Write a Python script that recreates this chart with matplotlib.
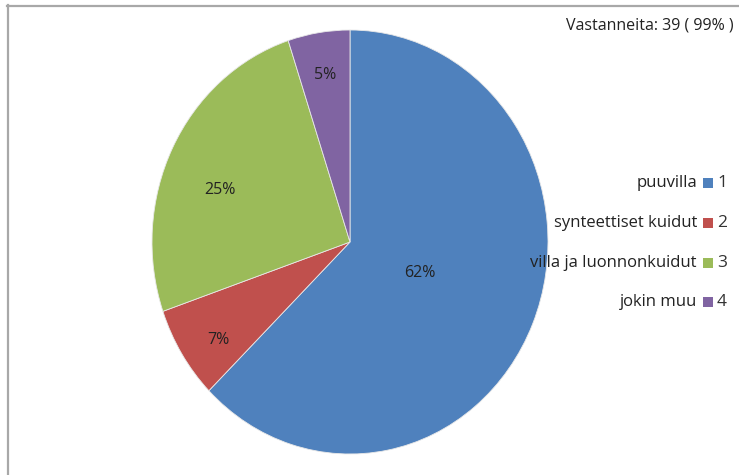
import matplotlib
matplotlib.use("Agg")
import matplotlib.pyplot as plt
import numpy as np
from matplotlib.patches import Rectangle
from matplotlib.lines import Line2D

categories = ["puuvilla", "synteettiset kuidut", "villa ja luonnonkuidut", "jokin muu"]
codes = ["1", "2", "3", "4"]
values = [62, 7, 25, 5]
colors = ["#4F81BD", "#C0504D", "#9BBB59", "#8064A2"]
summary = "Vastanneita: 39 ( 99% )"

# label placement style: distance from centre and angular nudge (degrees)
label_r = [0.38, 0.81, 0.70, 0.80]
label_da = [0, 3, 6, 0]

W, H = 739, 475
fig = plt.figure(figsize=(W / 100, H / 100), dpi=100)
plt.rcParams['font.family'] = ['Open Sans', 'DejaVu Sans']

# pie axes (elliptical pie as in reference)
cx0, cx1, cy0, cy1 = 152, 548, 30, 454
ax = fig.add_axes([cx0 / W, 1 - cy1 / H, (cx1 - cx0) / W, (cy1 - cy0) / H])
wedges, _ = ax.pie(values, colors=colors, startangle=90, counterclock=False,
                   wedgeprops=dict(edgecolor="#e8e8e8", linewidth=0.6))
ax.set_aspect('auto')
ax.set_xlim(-1, 1)
ax.set_ylim(-1, 1)
ax.axis('off')
for w, v, r, da in zip(wedges, values, label_r, label_da):
    w.set_clip_on(False)
    ang = np.deg2rad((w.theta1 + w.theta2) / 2 + da)
    ax.text(r * np.cos(ang), r * np.sin(ang), f"{v}%", ha='center', va='center',
            fontsize=11.5, color='#222222')

# legend
rows_y = [183, 223, 263, 302]
for cat, code, col, y in zip(categories, codes, colors, rows_y):
    fig.text(697 / W, 1 - y / H, cat, ha='right', va='center', fontsize=12, color='#222222')
    fig.patches.append(Rectangle((703 / W, 1 - (y + 5) / H), 10 / W, 10 / H,
                                 transform=fig.transFigure, facecolor=col, edgecolor='none'))
    fig.text(717 / W, 1 - y / H, code, ha='left', va='center', fontsize=12.5, color='#333333')

fig.text(734 / W, 1 - 26 / H, summary, ha='right', va='center', fontsize=11.5, color='#222222')

# border
fig.lines.append(Line2D([7 / W, 1], [1 - 5.5 / H, 1 - 5.5 / H], transform=fig.transFigure,
                        color='#a8a8a8', linewidth=1.6))
fig.lines.append(Line2D([7.5 / W, 7.5 / W], [0, 1 - 5 / H], transform=fig.transFigure,
                        color='#a8a8a8', linewidth=1.6))

fig.savefig("out.png", dpi=100)
